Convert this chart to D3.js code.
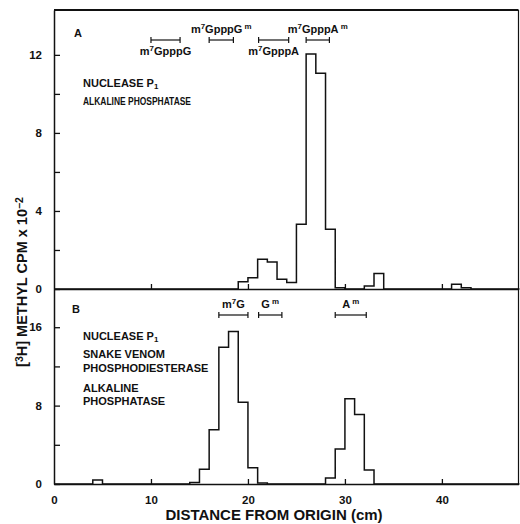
<!DOCTYPE html>
<html>
<head>
<meta charset="utf-8">
<script src="https://cdn.jsdelivr.net/npm/d3@7"></script>
<style>
body{margin:0;background:#fff;}
svg{display:block;font-family:"Liberation Sans",Arial,sans-serif;}
</style>
</head>
<body>
<div id="chart"></div>
<script>
var W = 520, H = 524;
var ink = "#111";

// fractions (cm from origin), 1 cm slices
var fractionCm = [0,1,2,3,4,5,6,7,8,9,10,11,12,13,14,15,16,17,18,19,20,21,22,23,24,25,26,27,28,29,30,31,32,33,34,35,36,37,38,39,40,41,42,43,44,45,46,47];
// panel A: nuclease P1 + alkaline phosphatase (cpm x 10^-2)
var cpmA = [0,0,0,0,0,0,0,0,0,0,
	0,0,0,0,0,0,0,0,0,0.37,
	0.58,1.52,1.38,0.5,0.33,3.32,12.05,11.06,3.06,0.06,
	0,0,0.15,0.8,0,0,0,0,0,0,
	0,0.24,0.07,0,0,0,0,0];
// panel B: nuclease P1 + snake venom PDE + alkaline phosphatase
var cpmB = [0,0,0,0,0.4,0,0,0,0,0,
	0,0,0,0,0.15,1.5,5.54,13.95,15.56,8.34,
	1.67,0.1,0,0,0,0,0,0,0.62,3.58,
	8.7,7.1,1.44,0,0,0,0,0,0,0,
	0,0,0,0,0,0,0,0];

var xTicks = [0,10,20,30,40];
var yTicksA = [0,2,4,6,8,10,12];
var yLabelsA = [0,4,8,12];
var yTicksB = [0,4,8,12,16];
var yLabelsB = [0,8,16];

// marker standards (start cm, end cm)
var markersA = ["m7GpppG","m7GpppGm","m7GpppA","m7GpppAm"];
var markerRangeA = [[10,13],[16,18.5],[21.1,24.2],[26,28.4]];
var markerSideA = ["below","above","below","above"];
var markersB = ["m7G","Gm","Am"];
var markerRangeB = [[17,20],[21.1,23.5],[29,32.2]];

var svg = d3.select("#chart").append("svg")
	.attr("width", W).attr("height", H);

var x = d3.scaleLinear().domain([0, 47.9]).range([54, 518.5]);
var yA = d3.scaleLinear().domain([0, 14.3]).range([289, 10]);
var yB = d3.scaleLinear().domain([0, 19.9]).range([484, 289]);

// superscript / subscript helper
function rich(g, px, py, parts, size){
	var t = g.append("text").attr("x", px).attr("y", py)
		.attr("font-size", size).attr("fill", ink);
	parts.forEach(function(p){
		var s = t.append("tspan").text(p[0]);
		if(p[1]=="sup"){ s.attr("font-size", size*0.72).attr("baseline-shift", "45%"); }
		if(p[1]=="sub"){ s.attr("font-size", size*0.72).attr("baseline-shift", "-25%"); }
	});
	return t;
}
function markerParts(name){
	var m = name.match(/^(m)(7)(.*?)(m?)$/);
	if(m && name.length>3){
		var out = [["m"],["7","sup"],[m[3]]];
		if(m[4]) out.push([" m","sup"]);
		return out;
	}
	if(name=="m7G") return [["m"],["7","sup"],["G"]];
	return [[name.charAt(0)],[" m","sup"]];
}

function stepLine(y){
	return d3.line()
		.x(function(d){ return x(d[0]); })
		.y(function(d){ return y(d[1]); })
		.curve(d3.curveStepAfter);
}
function histData(vals){
	var d = fractionCm.map(function(c,i){ return [c, vals[i]]; });
	d.push([48, 0]);
	return d;
}

// histograms
svg.append("path").datum(histData(cpmA))
	.attr("d", stepLine(yA)).attr("fill","none")
	.attr("stroke", ink).attr("stroke-width", 1.5);
svg.append("path").datum(histData(cpmB))
	.attr("d", stepLine(yB)).attr("fill","none")
	.attr("stroke", ink).attr("stroke-width", 1.5);

// frame
svg.append("line").attr("x1", 54).attr("x2", 518.5).attr("y1", 10).attr("y2", 10)
	.attr("stroke", ink).attr("stroke-width", 2);
svg.append("line").attr("x1", 518.5).attr("x2", 518.5).attr("y1", 10).attr("y2", 484)
	.attr("stroke", ink).attr("stroke-width", 1.2);

// axes
function styleAxis(g){
	g.select(".domain").attr("stroke", ink).attr("stroke-width", 1.5);
	g.selectAll(".tick line").attr("stroke", ink).attr("stroke-width", 1.3);
	g.selectAll(".tick text").attr("fill", ink).attr("font-size", 11.5)
		.attr("font-weight", "bold").attr("font-family", "Liberation Sans, Arial, sans-serif");
}
var axA = svg.append("g").attr("transform", "translate(54,0)")
	.call(d3.axisLeft(yA).tickValues(yTicksA).tickSizeInner(-6).tickSizeOuter(0).tickPadding(12)
		.tickFormat(function(d){ return yLabelsA.indexOf(d)>=0 ? d : ""; }));
styleAxis(axA);
var axB = svg.append("g").attr("transform", "translate(54,0)")
	.call(d3.axisLeft(yB).tickValues(yTicksB).tickSizeInner(-6).tickSizeOuter(0).tickPadding(12)
		.tickFormat(function(d){ return yLabelsB.indexOf(d)>=0 ? d : ""; }));
styleAxis(axB);
var axXA = svg.append("g").attr("transform", "translate(0,289)")
	.call(d3.axisBottom(x).tickValues(xTicks.slice(1)).tickSizeInner(-5).tickSizeOuter(0).tickFormat(""));
styleAxis(axXA);
var axXB = svg.append("g").attr("transform", "translate(0,484)")
	.call(d3.axisBottom(x).tickValues(xTicks).tickSizeInner(-5).tickSizeOuter(0).tickPadding(12));
styleAxis(axXB);
axXB.selectAll(".tick").filter(function(d){ return d==0; }).select("line").remove();

// axis titles
rich(svg, 0, 0, [["["],["3","sup"],["H] METHYL CPM x 10"],["−2","sup"]], 14.5)
	.attr("transform", "translate(27,282) rotate(-90)")
	.attr("text-anchor", "middle").attr("font-weight", "bold");
svg.append("text").attr("x", 274).attr("y", 520).attr("text-anchor", "middle")
	.attr("font-size", 15).attr("font-weight", "bold").attr("fill", ink)
	.text("DISTANCE FROM ORIGIN (cm)");

// panel letters
svg.append("text").attr("x", 74).attr("y", 37).attr("font-size", 11).attr("font-weight","bold").attr("fill", ink).text("A");
svg.append("text").attr("x", 72).attr("y", 313).attr("font-size", 11).attr("font-weight","bold").attr("fill", ink).text("B");

// marker bars
function drawMarkers(names, ranges, sides, barY){
	names.forEach(function(n, i){
		var r = ranges[i];
		var g = svg.append("g").attr("stroke", ink).attr("stroke-width", 1.2);
		g.append("line").attr("x1", x(r[0])).attr("x2", x(r[1])).attr("y1", barY).attr("y2", barY);
		g.append("line").attr("x1", x(r[0])).attr("x2", x(r[0])).attr("y1", barY-3).attr("y2", barY+3);
		g.append("line").attr("x1", x(r[1])).attr("x2", x(r[1])).attr("y1", barY-3).attr("y2", barY+3);
		var ly = sides[i]=="above" ? barY-7 : barY+15;
		rich(svg, (x(r[0])+x(r[1]))/2, ly, markerParts(n), 11)
			.attr("text-anchor", "middle").attr("font-weight", "bold");
	});
}
drawMarkers(markersA, markerRangeA, markerSideA, 40);
drawMarkers(markersB, markerRangeB, ["above","above","above"], 315);

// enzyme notes
rich(svg, 83, 87, [["NUCLEASE P"],["1","sub"]], 11).attr("font-weight","bold");
rich(svg, 83, 105, [["ALKALINE PHOSPHATASE"]], 11).attr("font-weight","bold")
	.attr("textLength", 108).attr("lengthAdjust", "spacingAndGlyphs");
var notesB = ["SNAKE VENOM","PHOSPHODIESTERASE","ALKALINE","PHOSPHATASE"];
var notesBy = [358, 372, 392, 405];
rich(svg, 83, 340, [["NUCLEASE P"],["1","sub"]], 11).attr("font-weight","bold");
notesB.forEach(function(s, i){
	svg.append("text").attr("x", 83).attr("y", notesBy[i]).attr("font-size", 11)
		.attr("font-weight","bold").attr("fill", ink).text(s);
});
</script>
</body>
</html>
